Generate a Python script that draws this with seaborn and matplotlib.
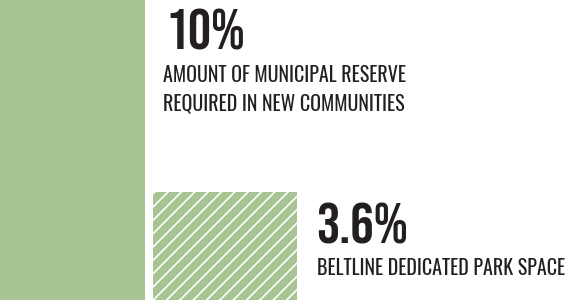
import matplotlib
matplotlib.use("Agg")
import matplotlib.pyplot as plt
import seaborn as sns

# --- data ---
categories = ["Municipal reserve", "Beltline park space"]
values = [10, 3.6]
value_labels = ["10%", "3.6%"]
desc_lines = [
    ["AMOUNT OF MUNICIPAL RESERVE", "REQUIRED IN NEW COMMUNITIES"],
    ["BELTLINE DEDICATED PARK SPACE"],
]

green = "#a7c493"
ink = "#231f20"

sns.set_theme(style="white")
plt.rcParams["font.family"] = ["Oswald", "DejaVu Sans"]
plt.rcParams["hatch.linewidth"] = 1.0
num_font = ["Bebas Neue", "DejaVu Sans"]

W, H, DPI = 567, 300, 120
fig = plt.figure(figsize=(W / DPI, H / DPI), dpi=DPI)
ax = fig.add_axes([0, 0, 1, 1])

# two bars on a 0-10 scale, the second one hatched
sns.barplot(x=categories, y=values, hue=categories, palette=[green, green],
            width=0.95, saturation=1, legend=False, ax=ax)
for p in ax.patches:
    p.set_linewidth(0)
hatched = ax.patches[1]
hatched.set_hatch("///")
hatched.set_edgecolor("white")
hatched.set_linewidth(0)

ax.set_xlim(-0.475, -0.475 + W / 152.5)
ax.set_ylim(0, 10)
ax.axis("off")

def px(x, y):
    return x / W, 1 - y / H

def label(x, y, s, size, family=None):
    ax.text(*px(x, y), s, transform=ax.transAxes, fontsize=size, family=family,
            color=ink, va="baseline", ha="left")

label(165, 50, value_labels[0], 34.5, num_font)
label(163, 82, desc_lines[0][0], 12)
label(163, 111, desc_lines[0][1], 12)

label(316, 243, value_labels[1], 35, num_font)
label(317, 275, desc_lines[1][0], 12)

fig.savefig("out.png", dpi=DPI, facecolor="white")
